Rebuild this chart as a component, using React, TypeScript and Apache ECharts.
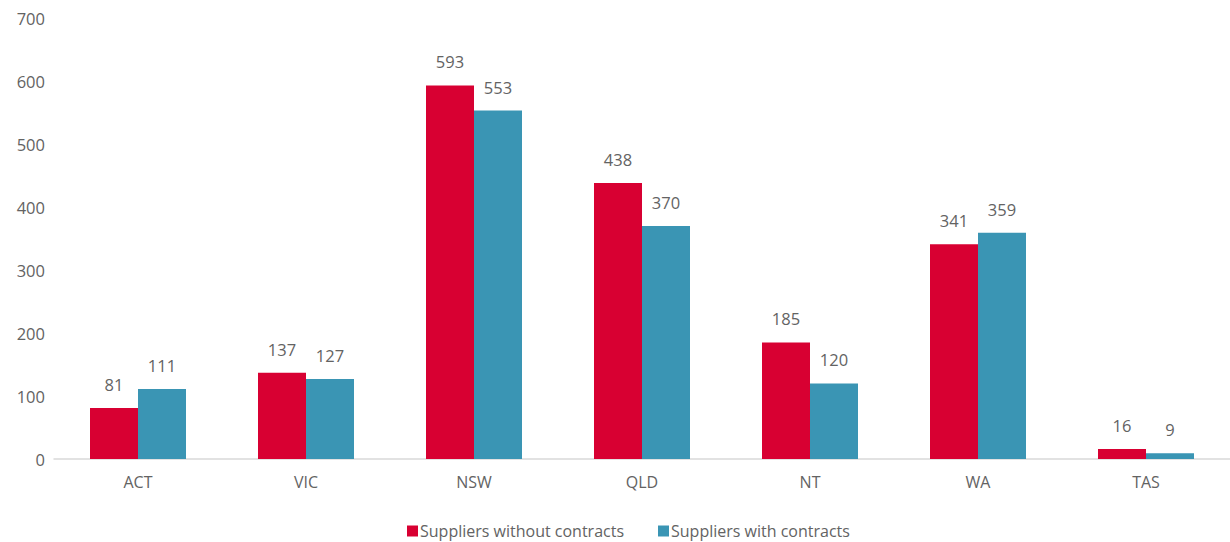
import React, { useEffect, useRef } from "react";
import * as echarts from "echarts";

const categories = ["ACT", "VIC", "NSW", "QLD", "NT", "WA", "TAS"];
const withoutContracts = [81, 137, 593, 438, 185, 341, 16];
const withContracts = [111, 127, 553, 370, 120, 359, 9];
const yTicks = { min: 0, max: 700, interval: 100 };

const FONT = "'Open Sans', 'Liberation Sans', sans-serif";
const TEXT = "#636363";

export default function App() {
  const ref = useRef<HTMLDivElement>(null);
  useEffect(() => {
    if (!ref.current) return;
    const chart = echarts.init(ref.current, undefined, { renderer: "svg" });
    const labelStyle = {
      show: true,
      position: "top" as const,
      distance: 15,
      color: TEXT,
      fontSize: 16.5,
      fontFamily: FONT,
    };
    chart.setOption({
      animation: false,
      textStyle: { fontFamily: FONT },
      grid: { left: 54, top: 18, width: 1178, height: 441 },
      legend: {
        top: 518,
        left: 402,
        itemWidth: 11,
        itemHeight: 11,
        itemGap: 34,
        icon: "rect",
        textStyle: { color: TEXT, fontSize: 16, fontFamily: FONT, padding: [0, 0, 0, -3] },
        data: ["Suppliers without contracts", "Suppliers with contracts"],
      },
      xAxis: {
        type: "category",
        data: categories,
        axisLine: { lineStyle: { color: "#d9d9d9", width: 1.5 } },
        axisTick: { show: false },
        axisLabel: { color: TEXT, fontSize: 16, fontFamily: FONT, margin: 15 },
      },
      yAxis: {
        type: "value",
        min: yTicks.min,
        max: yTicks.max,
        interval: yTicks.interval,
        splitLine: { show: false },
        axisLine: { show: false },
        axisTick: { show: false },
        axisLabel: { color: TEXT, fontSize: 16.5, fontFamily: FONT, margin: 9 },
      },
      series: [
        {
          name: "Suppliers without contracts",
          type: "bar",
          data: withoutContracts,
          barWidth: 48,
          barGap: "0%",
          itemStyle: { color: "#D80032" },
          label: labelStyle,
        },
        {
          name: "Suppliers with contracts",
          type: "bar",
          data: withContracts,
          barWidth: 48,
          barGap: "0%",
          itemStyle: { color: "#3A95B4" },
          label: labelStyle,
        },
      ],
    });
    return () => chart.dispose();
  }, []);
  return (
    <div
      ref={ref}
      style={{ position: "fixed", left: 0, top: 0, width: 1230, height: 542, background: "#fff" }}
    />
  );
}
